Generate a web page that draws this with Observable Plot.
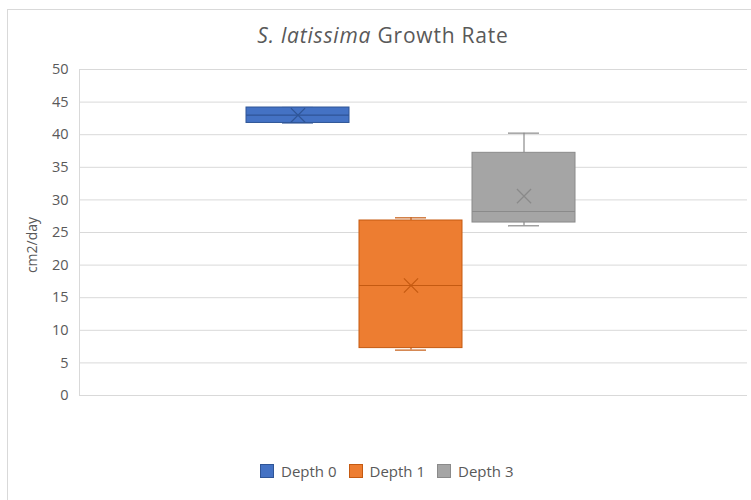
<!DOCTYPE html>
<html>
<head>
<meta charset="utf-8">
<script src="https://cdn.jsdelivr.net/npm/d3@7"></script>
<script src="https://cdn.jsdelivr.net/npm/@observablehq/plot@0.6"></script>
<style>
  html, body { margin: 0; padding: 0; background: #fff; }
  body { width: 751px; height: 500px; position: relative; overflow: hidden; font-family: "Open Sans", sans-serif; color: #595959; }
  #border { position: absolute; left: 7px; top: 9px; width: 800px; height: 600px; border-left: 1px solid #d9d9d9; border-top: 1px solid #d9d9d9; }
  #title { position: absolute; left: 0; width: 766px; top: 21px; text-align: center; font-size: 21px; letter-spacing: 0.8px; color: #595959; }
  #chart { position: absolute; left: 0; top: 0; }
  #ylabel { position: absolute; left: 31px; top: 245px; transform: translate(-50%, -50%) rotate(-90deg); font-size: 14px; white-space: nowrap; color: #595959; }
  #legend { position: absolute; top: 461px; left: 260px; display: flex; align-items: center; font-size: 15px; color: #595959; }
  .item { display: flex; align-items: center; margin-right: 12px; }
  .sw { width: 14px; height: 14px; margin-right: 7px; box-sizing: border-box; }
</style>
</head>
<body>
<div id="border"></div>
<div id="title"><i>S. latissima</i> Growth Rate</div>
<div id="chart"></div>
<div id="ylabel">cm2/day</div>
<div id="legend"></div>
<script>
const series = ["Depth 0", "Depth 1", "Depth 3"];
const minVals = [41.8, 6.96, 26.03];
const q1Vals = [41.8, 7.27, 26.53];
const medianVals = [43.0, 16.87, 28.22];
const q3Vals = [44.17, 26.84, 37.22];
const maxVals = [44.17, 27.25, 40.24];
const meanVals = [43.0, 16.87, 30.58];
const fillColors = ["#4472C4", "#ED7D31", "#A5A5A5"];
const lineColors = ["#2F5597", "#C55A11", "#8A8A8A"];
const yTicks = [0, 5, 10, 15, 20, 25, 30, 35, 40, 45, 50];

const data = series.map((s, i) => ({
  series: s, min: minVals[i], q1: q1Vals[i], median: medianVals[i],
  q3: q3Vals[i], max: maxVals[i], mean: meanVals[i],
  fill: fillColors[i], line: lineColors[i]
}));

const chart = Plot.plot({
  width: 751,
  height: 420,
  marginLeft: 79,
  marginRight: 4,
  marginTop: 69,
  marginBottom: 25,
  style: { fontFamily: "Open Sans, sans-serif", background: "transparent" },
  x: { type: "band", domain: series, range: [246, 575], paddingInner: 0.09, paddingOuter: 0, axis: null },
  y: { domain: [0, 50], axis: null },
  marks: [
    Plot.ruleY(yTicks, { stroke: "#d9d9d9", strokeWidth: 1 }),
    Plot.frame({ anchor: "left", stroke: "#d9d9d9" }),
    Plot.axisY({ ticks: yTicks, tickSize: 0, tickPadding: 11, fontSize: 14.5, fill: "#595959", label: null }),
    Plot.ruleX(data, { x: "series", y1: "min", y2: "q1", stroke: "line", strokeWidth: 1.2 }),
    Plot.ruleX(data, { x: "series", y1: "q3", y2: "max", stroke: "line", strokeWidth: 1.2 }),
    Plot.tickY(data, { x: "series", y: "min", stroke: "line", strokeWidth: 1.2, insetLeft: 36, insetRight: 36 }),
    Plot.tickY(data, { x: "series", y: "max", stroke: "line", strokeWidth: 1.2, insetLeft: 36, insetRight: 36 }),
    Plot.barY(data, { x: "series", y1: "q1", y2: "q3", fill: "fill", stroke: "line", strokeWidth: 1 }),
    Plot.tickY(data, { x: "series", y: "median", stroke: "line", strokeWidth: 1.2 }),
    Plot.dot(data, { x: "series", y: "mean", symbol: "times", r: 6.5, stroke: "line", strokeWidth: 1.2 })
  ]
});
document.getElementById("chart").appendChild(chart);

const legend = document.getElementById("legend");
series.forEach((s, i) => {
  const item = document.createElement("div");
  item.className = "item";
  const sw = document.createElement("div");
  sw.className = "sw";
  sw.style.background = fillColors[i];
  sw.style.border = "1px solid " + lineColors[i];
  const t = document.createElement("span");
  t.textContent = s;
  item.appendChild(sw);
  item.appendChild(t);
  legend.appendChild(item);
});
</script>
</body>
</html>
